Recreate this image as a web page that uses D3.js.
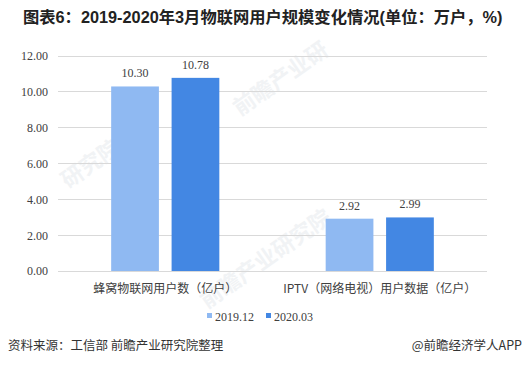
<!DOCTYPE html>
<html><head><meta charset="utf-8">
<script src="https://cdn.jsdelivr.net/npm/d3@7/dist/d3.min.js"></script>
<style>body{margin:0;background:#fff}svg{display:block}</style>
</head><body>
<script>
const categories = ["蜂窝物联网用户数（亿户）", "IPTV（网络电视）用户数据（亿户）"];
const seriesNames = ["2019.12", "2020.03"];
const values2019 = [10.30, 2.92];
const values2020 = [10.78, 2.99];
const yTicks = [0, 2, 4, 6, 8, 10, 12];
const colors = ["#8FB9F2", "#4387E3"];
const title = "图表6：2019-2020年3月物联网用户规模变化情况(单位：万户，%)";
const source = "资料来源：工信部 前瞻产业研究院整理";
const credit = "@前瞻经济学人APP";

const W = 530, H = 368;
const svg = d3.select("body").append("svg").attr("width", W).attr("height", H);
const cjk = "'Noto Sans CJK SC','Noto Sans',sans-serif";
const serif = "'Liberation Serif','Times New Roman',serif";

// faint watermarks
const wm = [[95,170,"研究院"],[285,85,"前瞻产业研"],[270,265,"前瞻产业研究院"]];
svg.append("g").selectAll("text").data(wm).join("text")
  .attr("transform", d => `translate(${d[0]},${d[1]}) rotate(-35)`)
  .attr("text-anchor","middle").attr("font-family",cjk).attr("font-size",22).attr("font-weight","bold")
  .attr("fill","#f1f3f5").text(d => d[2]);

const x0 = d3.scaleBand().domain(categories).range([58, 487]).paddingInner(0).paddingOuter(0);
const x1 = d3.scaleBand().domain(seriesNames).range([0, x0.bandwidth()]).paddingInner(0.21).paddingOuter(0.88);
const y = d3.scaleLinear().domain([0, 12]).range([271, 56]);

// grid
svg.append("g").selectAll("line").data(yTicks).join("line")
  .attr("x1", 58).attr("x2", 487).attr("y1", d => y(d)).attr("y2", d => y(d))
  .attr("stroke", "#d9d9d9").attr("stroke-width", 1).attr("shape-rendering","crispEdges");

// y axis labels
const yAxis = d3.axisLeft(y).tickValues(yTicks).tickFormat(d3.format(".2f")).tickSize(0).tickPadding(10);
const ya = svg.append("g").attr("transform","translate(58,0)").call(yAxis);
ya.select(".domain").remove();
ya.selectAll("text").attr("font-family", serif).attr("font-size", 12).attr("fill", "#404040");

// bars
const data = categories.map((c, i) => ({c, vals: [values2019[i], values2020[i]]}));
const groups = svg.append("g").selectAll("g").data(data).join("g")
  .attr("transform", d => `translate(${x0(d.c)},0)`);
groups.selectAll("rect").data(d => d.vals.map((v, j) => ({s: seriesNames[j], v, j}))).join("rect")
  .attr("x", d => x1(d.s)).attr("width", x1.bandwidth())
  .attr("y", d => y(d.v)).attr("height", d => y(0) - y(d.v))
  .attr("fill", d => colors[d.j]);
groups.selectAll("text").data(d => d.vals.map((v, j) => ({s: seriesNames[j], v, j}))).join("text")
  .attr("x", d => x1(d.s) + x1.bandwidth()/2).attr("y", d => y(d.v) - 9)
  .attr("text-anchor","middle").attr("font-family", serif).attr("font-size", 12).attr("fill","#404040")
  .text(d => d3.format(".2f")(d.v));

// x axis labels
const xAxis = d3.axisBottom(x0).tickSize(0).tickPadding(13);
const xa = svg.append("g").attr("transform", `translate(0,${y(0)})`).call(xAxis);
xa.select(".domain").remove();
xa.selectAll("text").attr("font-family", cjk).attr("font-size", 12).attr("fill", "#404040");

// legend
const leg = svg.append("g");
const legX = [207, 266];
seriesNames.forEach((s, i) => {
  leg.append("rect").attr("x", legX[i]).attr("y", 313).attr("width", 5).attr("height", 5).attr("fill", colors[i]);
  leg.append("text").attr("x", legX[i] + 8).attr("y", 321).attr("font-family", serif).attr("font-size", 12)
    .attr("fill","#404040").text(s);
});

// title
svg.append("text").attr("x", 23).attr("y", 23).attr("font-family", "'Liberation Sans','Noto Sans CJK SC',sans-serif")
  .attr("font-size", 16.3).attr("font-weight","bold").attr("fill","#222").text(title);

// source
svg.append("text").attr("x", 8).attr("y", 350).attr("font-family", cjk).attr("font-size", 12.5).attr("fill","#333").text(source);
svg.append("text").attr("x", 522).attr("y", 350).attr("text-anchor","end").attr("font-family", cjk).attr("font-size", 12.5).attr("fill","#333").text(credit);
</script>
</body></html>
